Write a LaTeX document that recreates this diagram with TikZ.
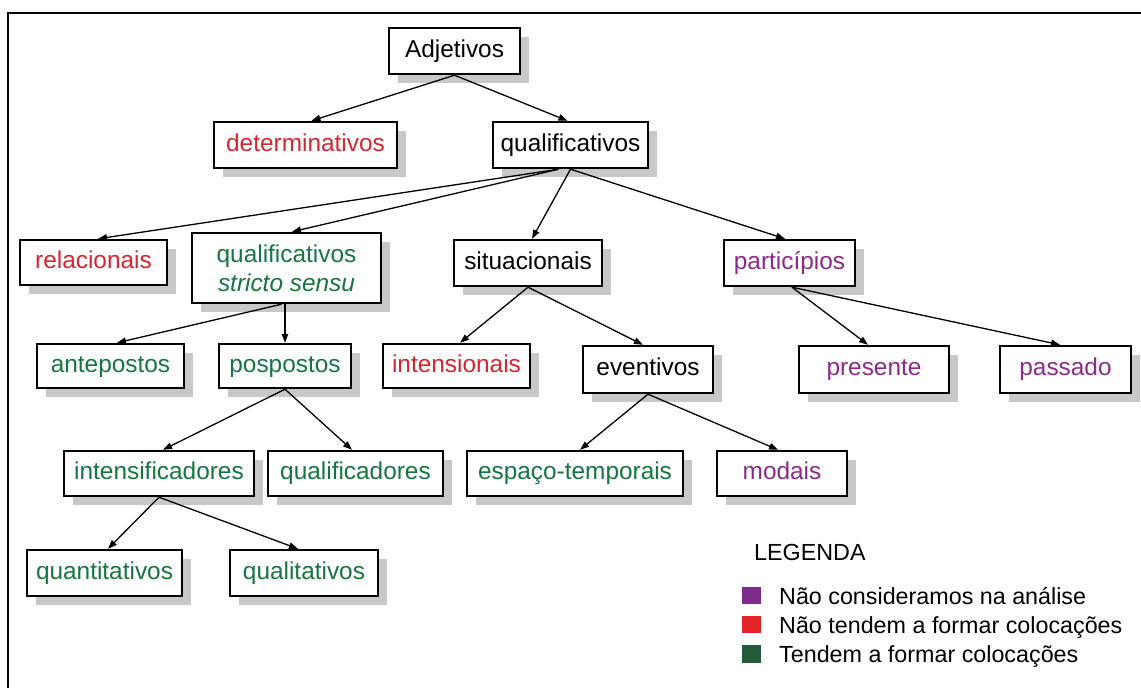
\documentclass[tikz,border=0pt]{standalone}
\usepackage{fontspec}
\setmainfont{Liberation Sans}
\usetikzlibrary{arrows.meta,shadows,calc}
\definecolor{tred}{RGB}{214,38,50}
\definecolor{tpurple}{RGB}{140,42,140}
\definecolor{tgreen}{RGB}{22,118,64}
\definecolor{lpurple}{RGB}{124,45,140}
\definecolor{lred}{RGB}{226,36,38}
\definecolor{lgreen}{RGB}{36,92,59}
\definecolor{shadowgray}{RGB}{200,200,200}
\tikzset{
  box/.style={draw, line width=2.4pt, fill=white, inner sep=0pt,
    align=center, font=\fontsize{24.4}{29}\selectfont,
    drop shadow={shadow xshift=9pt, shadow yshift=-9pt, fill=shadowgray, opacity=1}},
  one/.style={text height=17.5pt, text depth=5pt},
  conn/.style={line width=1.3pt, -{Triangle[length=9pt,width=6.5pt]}},
  legsq/.style={inner sep=0pt, minimum width=19pt, minimum height=17.5pt},
  legtxt/.style={anchor=base west, inner sep=0pt, font=\fontsize{23.3}{28}\selectfont},
}
\begin{document}
\begin{tikzpicture}[x=1pt,y=-1pt]
\useasboundingbox (0,0) rectangle (1141,688);
\draw[line width=2.5pt] (8,688) -- (8,13) -- (1141,13);

% nodes
\node[box,one,minimum width=131pt,minimum height=46pt] (adj) at (454.5,51) {Adjetivos};
\node[box,one,minimum width=183pt,minimum height=46pt,text=tred] (det) at (305.5,145) {determinativos};
\node[box,one,minimum width=155pt,minimum height=46pt] (qual) at (570.5,145) {qualificativos};

\node[box,one,minimum width=147pt,minimum height=45pt,text=tred] (rel) at (93.5,262.5) {relacionais};
\node[box,minimum width=189pt,minimum height=70pt,text=tgreen] (qss) at (286.5,268) {qualificativos\\\textit{stricto sensu}};
\node[box,one,minimum width=148pt,minimum height=46pt] (sit) at (528,263) {situacionais};
\node[box,one,minimum width=131pt,minimum height=46pt,text=tpurple] (part) at (789.5,263) {particípios};

\node[box,one,minimum width=147pt,minimum height=44pt,text=tgreen] (ante) at (110.5,366) {antepostos};
\node[box,one,minimum width=132pt,minimum height=44pt,text=tgreen] (pos) at (285,366) {pospostos};
\node[box,one,minimum width=147pt,minimum height=44pt,text=tred] (intn) at (456.5,366) {intensionais};
\node[box,one,minimum width=130pt,minimum height=47pt] (ev) at (648,369.5) {eventivos};
\node[box,one,minimum width=150pt,minimum height=47pt,text=tpurple] (pres) at (874,369.5) {presente};
\node[box,one,minimum width=131pt,minimum height=47pt,text=tpurple] (pass) at (1065.5,369.5) {passado};

\node[box,one,minimum width=190pt,minimum height=45pt,text=tgreen] (intf) at (159,473.5) {intensificadores};
\node[box,one,minimum width=175pt,minimum height=45pt,text=tgreen] (qfd) at (355.5,473.5) {qualificadores};
\node[box,one,minimum width=216pt,minimum height=45pt,text=tgreen] (esp) at (575,473.5) {espaço-temporais};
\node[box,one,minimum width=130pt,minimum height=45pt,text=tpurple] (mod) at (782,473.5) {modais};

\node[box,one,minimum width=155pt,minimum height=46pt,text=tgreen] (quant) at (104.5,573) {quantitativos};
\node[box,one,minimum width=148pt,minimum height=46pt,text=tgreen] (qlt) at (304,573) {qualitativos};

% connectors
\draw[conn] (adj.south) -- ([xshift=6pt]det.north);
\draw[conn] (adj.south) -- ([xshift=-3pt]qual.north);
\draw[conn] ([xshift=-12pt]qual.south) -- ([xshift=4.5pt]rel.north);
\draw[conn] ([xshift=-12pt]qual.south) -- ([xshift=5.5pt]qss.north);
\draw[conn] (qual.south) -- ([xshift=4pt]sit.north);
\draw[conn] (qual.south) -- ([xshift=-4.5pt]part.north);
\draw[conn] ([xshift=-5pt]qss.south) -- ([xshift=6.5pt]ante.north);
\draw[conn] (qss.south -| pos.north) -- (pos.north);
\draw[conn] (pos.south) -- ([xshift=4pt]intf.north);
\draw[conn] (pos.south) -- ([xshift=-3.5pt]qfd.north);
\draw[conn] (sit.south) -- ([xshift=3.5pt]intn.north);
\draw[conn] (sit.south) -- ([xshift=-5pt]ev.north);
\draw[conn] ([xshift=2.5pt]part.south) -- ([xshift=-6pt]pres.north);
\draw[conn] ([xshift=2.5pt]part.south) -- ([xshift=-5.5pt]pass.north);
\draw[conn] (ev.south) -- ([xshift=5pt]esp.north);
\draw[conn] (ev.south) -- ([xshift=-4pt]mod.north);
\draw[conn] (intf.south) -- ([xshift=3.5pt]quant.north);
\draw[conn] (intf.south) -- ([xshift=-6pt]qlt.north);

% legend
\node[legtxt] (legt) at (754,560) {LEGENDA};
\node[legsq,fill=lpurple] (sq1) at (751.5,595.5) {};
\node[legsq,fill=lred] (sq2) at (751.5,624.5) {};
\node[legsq,fill=lgreen] (sq3) at (751.5,654) {};
\node[legtxt] (l1) at (779,604) {Não consideramos na análise};
\node[legtxt] (l2) at (779,633) {Não tendem a formar colocações};
\node[legtxt] (l3) at (779,662) {Tendem a formar colocações};
\end{tikzpicture}
\end{document}
